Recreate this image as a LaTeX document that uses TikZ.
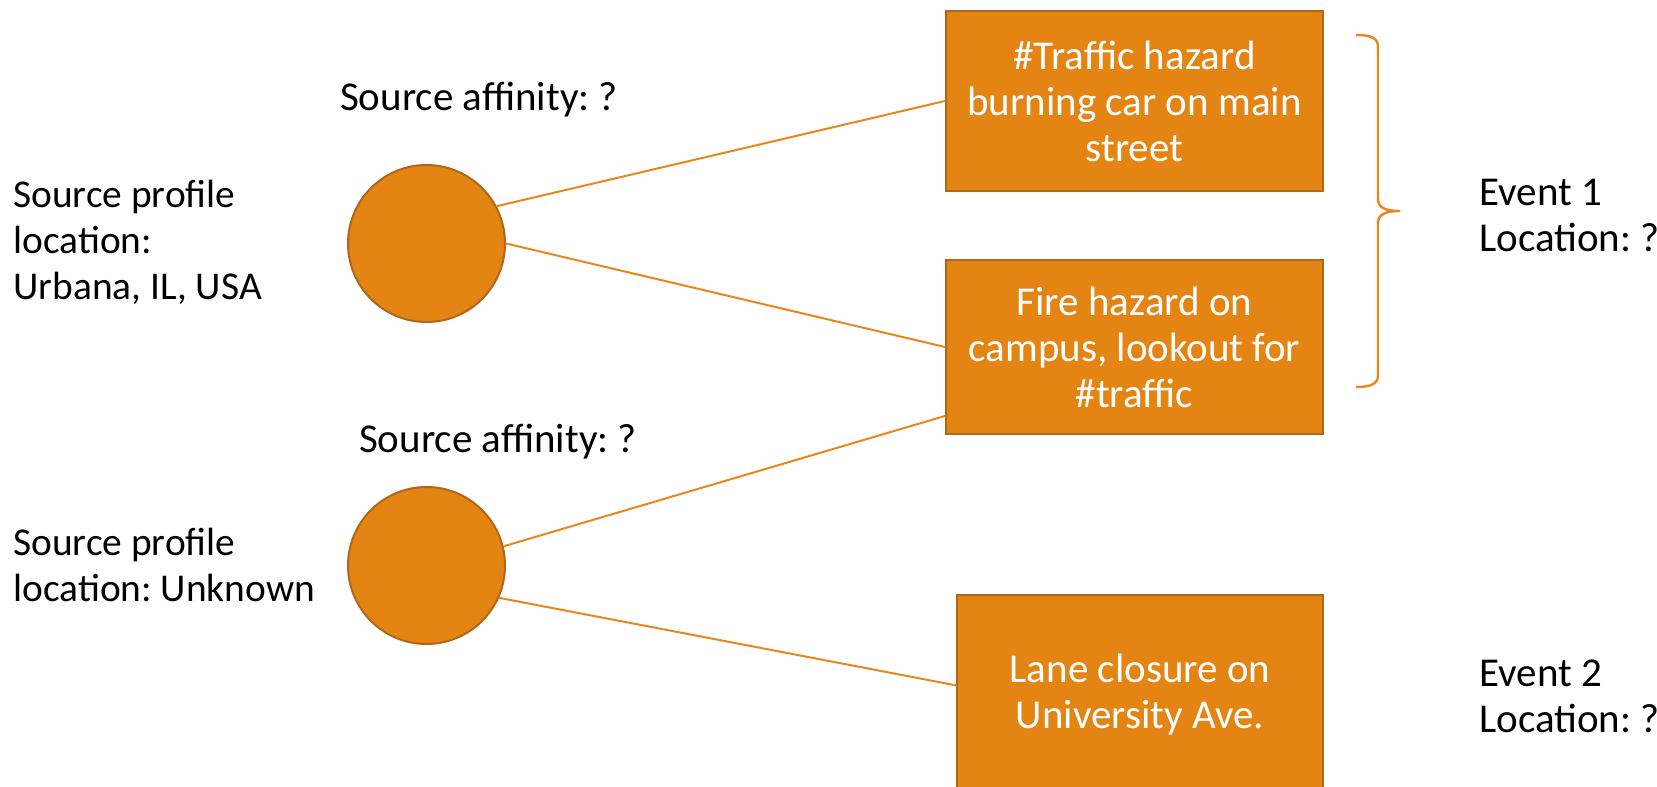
\documentclass[tikz,border=0pt]{standalone}
\usepackage{fontspec}
\setmainfont{Carlito}
\usetikzlibrary{positioning}
\definecolor{boxfill}{RGB}{227,132,19}
\definecolor{boxedge}{RGB}{176,104,24}
\definecolor{linkorange}{RGB}{234,135,28}
\frenchspacing

\begin{document}
\begin{tikzpicture}[x=0.5pt,y=-0.5pt,
  post/.style={rectangle,draw=boxedge,fill=boxfill,line width=1pt,text=white,
               align=center,font=\fontsize{20.5}{23}\selectfont},
  source/.style={circle,draw=boxedge,fill=boxfill,line width=1pt,
                 minimum size=78.5pt,inner sep=0pt},
  caption/.style={inner sep=0pt,align=left,font=\fontsize{20.5}{23}\selectfont},
  profile/.style={caption,anchor=west,font=\fontsize{19.7}{23}\selectfont},
  link/.style={draw=linkorange,line width=1pt}]

\useasboundingbox (0,0) rectangle (1657,786);

\node[post,minimum width=188.5pt,minimum height=90pt] (traffic) at (1134.5,101)
  {\#Traffic hazard\\burning car on main\\street};
\node[post,minimum width=188.5pt,minimum height=87pt,below=33.5pt of traffic] (fire)
  {Fire hazard on\\campus, lookout for\\\#traffic};
\node[post,minimum width=183pt,minimum height=100pt] (lane) at (1140,695)
  {Lane closure on\\University Ave.};

\node[source] (urbana) at (426.5,243.5) {};
\node[source,below=81.5pt of urbana] (unknown) {};

\node[caption] (affinity1) at (479,100) {Source affinity: ?};
\node[caption] (affinity2) at (498,442) {Source affinity: ?};
\node[profile] (profile1) at (13,242)
  {Source profile\\location:\\Urbana, IL, USA};
\node[profile] (profile2) at (13,565)
  {Source profile\\location: Unknown};
\node[caption,anchor=west] (event1) at (1479,215) {Event 1\\Location: ?};
\node[caption,anchor=west] (event2) at (1479,696) {Event 2\\Location: ?};

\draw[link] (urbana.28) -- (traffic.west);
\draw[link] (urbana.east) -- (fire.west);
\draw[link] (unknown.14) -- (fire.200);
\draw[link] (unknown.-24) -- (lane.177);

% brace grouping the first two posts
\coordinate (braceTop) at (1356,35);
\draw[link,line width=1.2pt] (braceTop)
  .. controls +(15,0) and +(0,-9) .. ++(22,12) -- ++(0,152)
  .. controls +(0,9) and +(-14,0) .. ++(22,12)
  .. controls +(-14,0) and +(0,-9) .. ++(-22,12) -- ++(0,152)
  .. controls +(0,9) and +(15,0) .. ++(-22,12);
\end{tikzpicture}
\end{document}
